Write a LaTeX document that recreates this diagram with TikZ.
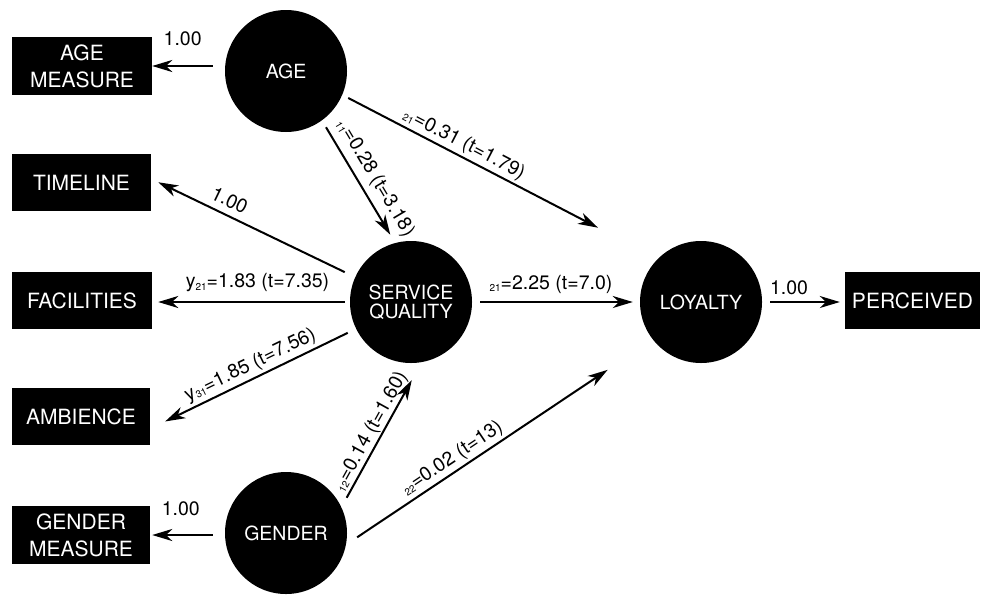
\documentclass[tikz,border=0pt]{standalone}
\usepackage{fontspec}
\setmainfont{TeX Gyre Heros}
\usetikzlibrary{arrows.meta}
\newcommand\sbs[1]{\raisebox{-0.12em}{\fontsize{10}{10}\selectfont #1}}
\begin{document}
\begin{tikzpicture}[x=1pt,y=-1pt,
  latent/.style={circle,fill=black,text=white,minimum size=122pt,inner sep=0pt,align=center,font=\fontsize{19.5}{19}\selectfont},
  obs/.style={rectangle,fill=black,text=white,minimum width=139pt,minimum height=57pt,inner sep=0pt,align=center,font=\fontsize{21}{27}\selectfont},
  arr/.style={line width=2pt,-{Stealth[length=20pt,width=12pt,inset=6pt]}},
  lab/.style={font=\fontsize{19.5}{20}\selectfont,inner sep=2pt,text=black},
]
\useasboundingbox (0,0) rectangle (981,595);
\node[latent] (age) at (286,71) {AGE};
\node[latent] (sq) at (411,302) {SERVICE\\QUALITY};
\node[latent] (loy) at (701,302) {LOYALTY};
\node[latent] (gen) at (286,533) {GENDER};
\node[obs,minimum width=140pt,minimum height=58pt] (agem) at (82,66) {AGE\\MEASURE};
\node[obs] (tl) at (81.5,182.5) {TIMELINE};
\node[obs,minimum width=140pt] (fac) at (82,300.5) {FACILITIES};
\node[obs,minimum width=138pt] (amb) at (81,416.5) {AMBIENCE};
\node[obs,minimum width=138pt,minimum height=58pt] (gm) at (81,535) {GENDER\\MEASURE};
\node[obs,minimum width=135pt] (perc) at (912.5,300.5) {PERCEIVED};

\draw[arr,shorten <=12pt] (age.west |- agem.east) -- node[lab,pos=0.58,above=17pt] (l1) {1.00} (agem.east);
\draw[arr,shorten <=7.85pt,shorten >=9.5pt] (age.-54) -- node[lab,sloped,pos=0.537,above=4pt] (l2) {\sbs{11}=0.28 (t=3.18)} (sq.105);
\draw[arr,shorten <=6.65pt,shorten >=67.3pt] (age.-23) -- node[lab,sloped,pos=0.368,above=0.5pt] (l3) {\sbs{21}=0.31 (t=1.79)} (loy.135);
\draw[arr,shorten <=11.5pt,shorten >=7.8pt] (sq.156) -- node[lab,sloped,pos=0.647,above=4.6pt] (l4) {1.00} (tl.3);
\draw[arr,shorten <=5pt,shorten >=6pt] (sq.west) -- node[lab,pos=0.467,above=7pt] (l5) {y\sbs{21}=1.83 (t=7.35)} (sq.west -| fac.east);
\draw[arr,shorten <=9.2pt,shorten >=16.6pt] (sq.206) -- node[lab,sloped,pos=0.485,above=1pt] (l6) {y\sbs{31}=1.85 (t=7.56)} (amb.-10);
\draw[arr,shorten <=8pt,shorten >=7pt] (sq.east) -- node[lab,pos=0.47,above=5.4pt] (l7) {\sbs{21}=2.25 (t=7.0)} (loy.west);
\draw[arr,shorten <=10.75pt,shorten >=20.4pt] (gen.25) -- node[lab,sloped,pos=0.485,above=-1pt] (l8) {\sbs{12}=0.14 (t=1.60)} (sq.-80);
\draw[arr,shorten <=13.3pt,shorten >=54.3pt] (gen.-11) -- node[lab,sloped,pos=0.37,above=1pt] (l9) {\sbs{22}=0.02 (t=13)} (loy.218);
\draw[arr,shorten <=8pt,shorten >=5pt] (loy.east) -- node[lab,pos=0.325,above=4pt] (l10) {1.00} (loy.east -| perc.west);
\draw[arr,shorten <=12pt,shorten >=2pt] (gen.west |- gm.east) -- node[lab,pos=0.59,above=16pt] (l11) {1.00} (gm.east);
\end{tikzpicture}
\end{document}
